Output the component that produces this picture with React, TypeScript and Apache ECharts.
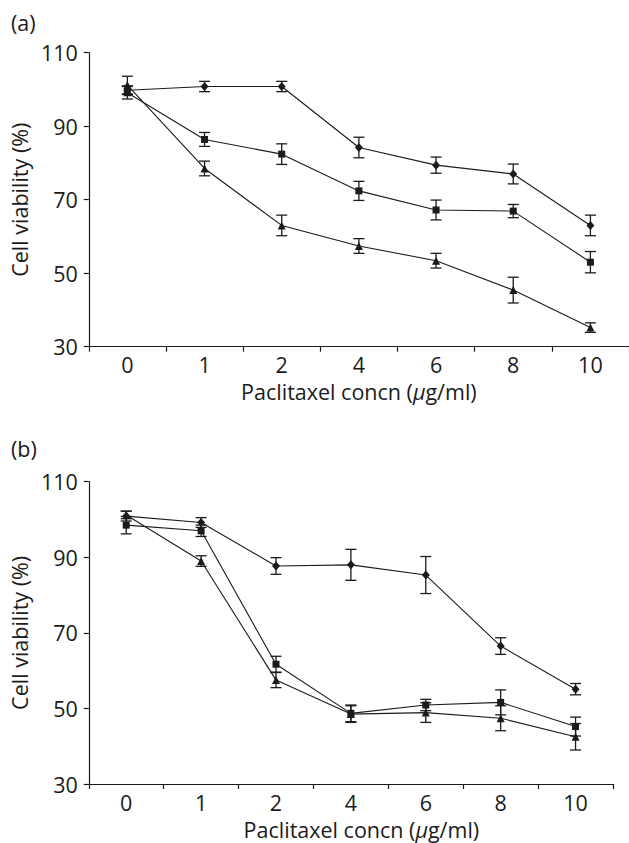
import React, { useEffect, useRef } from 'react';
import * as echarts from 'echarts';

// Paclitaxel concentrations (µg/ml) – category axis
const concentrations = ['0', '1', '2', '4', '6', '8', '10'];
const yTicks = { min: 30, max: 110, interval: 20 };

// Panel (a)
const aDiamond = [99.8, 100.8, 100.8, 84.2, 79.4, 77.0, 63.0];
const aDiamondErr = [1.2, 1.4, 1.4, 2.8, 2.2, 2.7, 2.8];
const aSquare = [99.1, 86.4, 82.4, 72.4, 67.2, 66.9, 53.0];
const aSquareErr = [1.7, 1.9, 2.8, 2.6, 2.7, 1.8, 2.9];
const aTriangle = [101.2, 78.5, 63.0, 57.4, 53.4, 45.4, 35.2];
const aTriangleErr = [2.4, 2.0, 2.8, 2.0, 2.0, 3.5, 1.3];

// Panel (b)
const bDiamond = [100.9, 99.2, 87.7, 88.0, 85.3, 66.5, 55.1];
const bDiamondErr = [1.3, 1.3, 2.2, 4.1, 4.9, 2.2, 1.5];
const bSquare = [98.5, 97.0, 61.7, 48.7, 50.9, 51.6, 45.2];
const bSquareErr = [2.3, 1.5, 2.1, 2.2, 1.5, 3.3, 2.5];
const bTriangle = [101.2, 89.0, 57.5, 48.5, 48.9, 47.4, 42.5];
const bTriangleErr = [1.0, 1.4, 2.0, 2.2, 2.6, 3.3, 3.5];

const FONT = 'Open Sans';
const FS = 21.5;
const INK = '#1b1b1b';

export default function App() {
  const ref = useRef<HTMLDivElement>(null);

  useEffect(() => {
    if (!ref.current) return;
    const chart = echarts.init(ref.current, null, { renderer: 'svg' });

    const errSeries = (vals: number[], errs: number[], idx: number) => ({
      type: 'custom',
      xAxisIndex: idx,
      yAxisIndex: idx,
      silent: true,
      z: 1,
      encode: { x: 0, y: 1 },
      data: vals.map((v, i) => [i, v, errs[i]]),
      renderItem: (params: any, api: any) => {
        const x = api.value(0);
        const y = api.value(1);
        const e = api.value(2);
        const hi = api.coord([x, y + e]);
        const lo = api.coord([x, y - e]);
        const w = 5.5;
        const style = { stroke: INK, lineWidth: 1.3 };
        return {
          type: 'group',
          children: [
            { type: 'line', shape: { x1: hi[0], y1: hi[1], x2: lo[0], y2: lo[1] }, style },
            { type: 'line', shape: { x1: hi[0] - w, y1: hi[1], x2: hi[0] + w, y2: hi[1] }, style },
            { type: 'line', shape: { x1: lo[0] - w, y1: lo[1], x2: lo[0] + w, y2: lo[1] }, style },
          ],
        };
      },
    });

    const lineSeries = (name: string, vals: number[], idx: number, symbol: string, size: any) => ({
      type: 'line',
      name,
      xAxisIndex: idx,
      yAxisIndex: idx,
      data: vals,
      symbol,
      symbolSize: size,
      showAllSymbol: true,
      z: 3,
      lineStyle: { color: INK, width: 1.1 },
      itemStyle: { color: INK, borderWidth: 0 },
    });

    const xAxis = (gridIndex: number, padLeft: number) => ({
      type: 'category',
      gridIndex,
      data: concentrations,
      boundaryGap: true,
      axisLine: { show: true, lineStyle: { color: INK, width: 1.2 } },
      axisTick: { show: true, length: 5, lineStyle: { color: INK, width: 1.2 } },
      axisLabel: { fontFamily: FONT, fontSize: FS, color: INK, margin: 7 },
      splitLine: { show: false },
      name: '{n|Paclitaxel concn (}{i|μ}{n|g/ml)}',
      nameLocation: 'middle',
      nameGap: 34,
      nameTextStyle: {
        padding: [0, 0, 0, padLeft],
        rich: {
          n: { fontFamily: FONT, fontSize: FS, color: INK },
          i: { fontFamily: FONT, fontSize: FS, color: INK, fontStyle: 'italic' },
        },
      },
    });

    const yAxis = (gridIndex: number) => ({
      type: 'value',
      gridIndex,
      min: yTicks.min,
      max: yTicks.max,
      interval: yTicks.interval,
      axisLine: { show: true, lineStyle: { color: INK, width: 1.2 } },
      axisTick: { show: true, length: 5, lineStyle: { color: INK, width: 1.2 } },
      axisLabel: { fontFamily: FONT, fontSize: FS, color: INK, margin: 11 },
      splitLine: { show: false },
      name: 'Cell viability (%)',
      nameLocation: 'middle',
      nameGap: 52,
      nameRotate: 90,
      nameTextStyle: { fontFamily: FONT, fontSize: FS, color: INK },
    });

    chart.setOption({
      animation: false,
      backgroundColor: '#ffffff',
      grid: [
        { left: 87.3, top: 52.7, width: 543, height: 294 },
        { left: 88, top: 481.7, width: 525, height: 302.3 },
      ],
      xAxis: [xAxis(0, 0), xAxis(1, 21)],
      yAxis: [yAxis(0), yAxis(1)],
      graphic: [
        { type: 'text', left: 11, top: 11, style: { text: '(a)', fontFamily: FONT, fontSize: FS, fill: INK } },
        { type: 'text', left: 11, top: 437, style: { text: '(b)', fontFamily: FONT, fontSize: FS, fill: INK } },
      ],
      series: [
        errSeries(aDiamond, aDiamondErr, 0),
        errSeries(aSquare, aSquareErr, 0),
        errSeries(aTriangle, aTriangleErr, 0),
        errSeries(bDiamond, bDiamondErr, 1),
        errSeries(bSquare, bSquareErr, 1),
        errSeries(bTriangle, bTriangleErr, 1),
        lineSeries('a-diamond', aDiamond, 0, 'diamond', [8, 9]),
        lineSeries('a-square', aSquare, 0, 'rect', 7),
        lineSeries('a-triangle', aTriangle, 0, 'triangle', 8),
        lineSeries('b-diamond', bDiamond, 1, 'diamond', [8, 9]),
        lineSeries('b-square', bSquare, 1, 'rect', 7),
        lineSeries('b-triangle', bTriangle, 1, 'triangle', 8),
      ],
    });

    return () => chart.dispose();
  }, []);

  return (
    <div
      ref={ref}
      style={{ position: 'absolute', left: 0, top: 0, width: 629, height: 843, background: '#fff' }}
    />
  );
}
